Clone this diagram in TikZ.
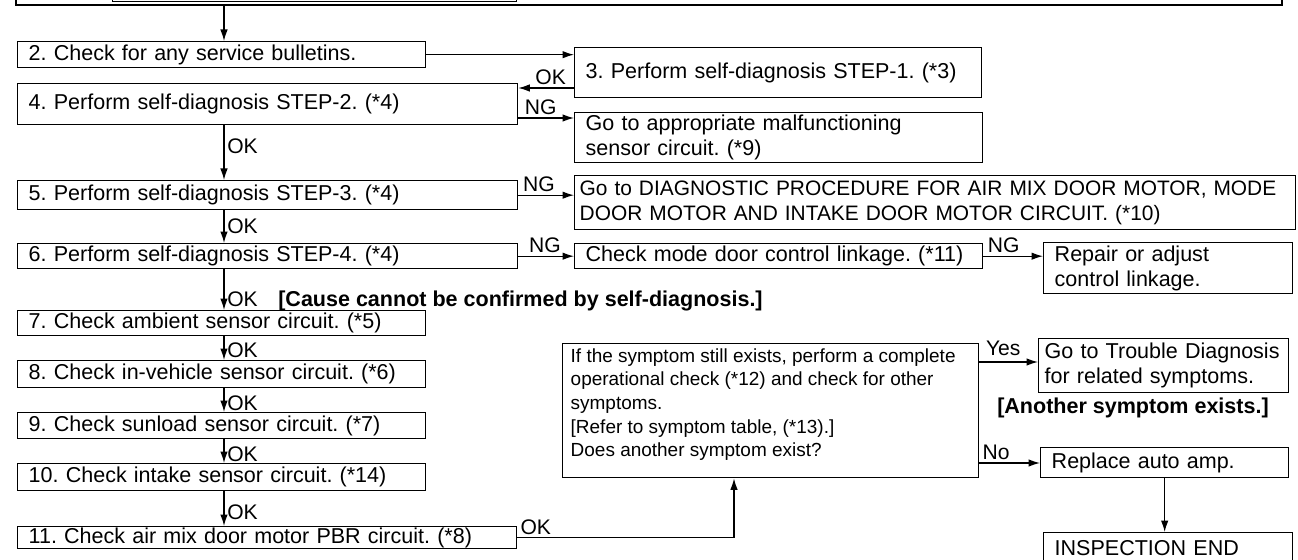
\documentclass[tikz,border=0pt]{standalone}
\usepackage{fontspec}
\setmainfont{Liberation Sans}
\usetikzlibrary{arrows.meta}
\frenchspacing

\begin{document}
\begin{tikzpicture}[x=0.02cm,y=-0.02cm,>={Latex[length=2.3mm,width=1.5mm]},
  box/.style={draw,line width=0.8pt,anchor=north west,inner xsep=0.22cm,inner ysep=0pt,
    align=left,font=\fontsize{12.25}{14.2}\selectfont},
  cut/.style={draw,anchor=south west,inner sep=0pt},
  flow/.style={->,line width=0.7pt},
  tag/.style={inner sep=1.5pt,font=\fontsize{12}{14}\selectfont},
  note/.style={inner sep=0pt,font=\bfseries\fontsize{12.25}{14.2}\selectfont}]
\useasboundingbox (0,0) rectangle (1298,560);
\clip (0,0) rectangle (1298,560);
\coordinate (spine) at (224,0);
\coordinate (riser) at (734,0);
% step 1 (cut off at the top)
\node[cut,line width=1.3pt,minimum width=25.32cm,minimum height=1.2cm] (top) at (15,6.5) {};
\node[cut,line width=0.8pt,minimum width=8.08cm,minimum height=1cm] (topin) at (112,2) {};
% left column
\node[box,text width=7.72cm,minimum height=0.52cm] (check2) at (17,41) {2. Check for any service bulletins.};
\node[box,text width=9.56cm,minimum height=0.82cm] (step2) at (17,83) {4. Perform self-diagnosis STEP-2. (*4)};
\node[box,text width=9.56cm,minimum height=0.58cm] (step3) at (17,180) {5. Perform self-diagnosis STEP-3. (*4)};
\node[box,text width=9.56cm,minimum height=0.5cm] (step4) at (17,243) {6. Perform self-diagnosis STEP-4. (*4)};
\node[box,text width=7.72cm,minimum height=0.5cm] (amb) at (17,310) {7. Check ambient sensor circuit. (*5)};
\node[box,text width=7.72cm,minimum height=0.54cm] (inveh) at (17,360) {8. Check in-vehicle sensor circuit. (*6)};
\node[box,text width=7.72cm,minimum height=0.52cm] (sunload) at (17,412) {9. Check sunload sensor circuit. (*7)};
\node[box,text width=7.72cm,minimum height=0.54cm] (intake) at (17,463) {10. Check intake sensor circuit. (*14)};
\node[box,text width=9.54cm,minimum height=0.44cm] (pbr) at (17,526) {11. Check air mix door motor PBR circuit. (*8)};
% right side
\node[box,text width=7.70cm,minimum height=1cm] (step1) at (574,47) {3. Perform self-diagnosis STEP-1. (*3)};
\node[box,text width=7.72cm,minimum height=1cm] (sensor) at (574,112) {Go to appropriate malfunctioning\\sensor circuit. (*9)};
\node[box,text width=14.22cm,inner xsep=0.1cm,minimum height=1.08cm,font=\fontsize{11.9}{14.2}\selectfont] (motors) at (574,175)
  {Go to DIAGNOSTIC PROCEDURE FOR AIR MIX DOOR MOTOR, MODE\\DOOR MOTOR AND INTAKE DOOR MOTOR CIRCUIT. (*10)};
\node[box,text width=7.72cm,minimum height=0.5cm] (linkage) at (574,243) {Check mode door control linkage. (*11)};
\node[box,text width=4.54cm,minimum height=1.02cm] (repair) at (1043,242) {Repair or adjust\\control linkage.};
\node[box,inner xsep=0.16cm,inner ysep=0.1cm,font=\fontsize{10.8}{13.4}\selectfont] (symptom) at (562,343)
  {\parbox[c][2.48cm][t]{8cm}{\raggedright If the symptom still exists, perform a complete\\operational check (*12) and check for other\\symptoms.\\{}[Refer to symptom table, (*13).]\\Does another symptom exist?}};
\node[box,text width=4.76cm,inner xsep=0.12cm,minimum height=1.08cm] (trouble) at (1038,338) {Go to Trouble Diagnosis\\for related symptoms.};
\node[box,text width=4.52cm,minimum height=0.6cm] (replace) at (1040,447) {Replace auto amp.};
\node[box,text width=4.54cm,minimum height=0.62cm] (inspend) at (1043,532) {INSPECTION END};
% connectors
\draw[flow] (top.south -| spine) -- (check2.north -| spine);
\draw[flow] (check2.east) -- (check2.east -| step1.west);
\draw[flow] (step1.west |- 0,88) -- (step2.east |- 0,88) node[tag,pos=0.42,above] (ok1) {OK};
\draw[flow] (step2.east |- 0,118) -- (sensor.west |- 0,118) node[tag,pos=0.4,above] (ng1) {NG};
\draw[flow] (step2.south -| spine) -- (step3.north -| spine) node[tag,pos=0.38,right] (ok2) {OK};
\draw[flow] (step3.east) -- (step3.east -| motors.west) node[tag,pos=0.37,above] (ng2) {NG};
\draw[flow] (step3.south -| spine) -- (step4.north -| spine) node[tag,pos=0.5,right] (ok3) {OK};
\draw[flow] (step4.east) -- (linkage.west) node[tag,pos=0.48,above] (ng3) {NG};
\draw[flow] (linkage.east) -- (linkage.east -| repair.west) node[tag,pos=0.34,above] (ng4) {NG};
\draw[flow] (step4.south -| spine) -- (amb.north -| spine) node[tag,pos=0.74,right] (ok4) {OK};
\node[note,anchor=base west] (cause) at ([xshift=0.34cm]ok4.base east) {[Cause cannot be confirmed by self-diagnosis.]};
\draw[flow] (amb.south -| spine) -- (inveh.north -| spine) node[tag,pos=0.6,right] (ok5) {OK};
\draw[flow] (inveh.south -| spine) -- (sunload.north -| spine) node[tag,pos=0.62,right] (ok6) {OK};
\draw[flow] (sunload.south -| spine) -- (intake.north -| spine) node[tag,pos=0.64,right] (ok7) {OK};
\draw[flow] (intake.south -| spine) -- (pbr.north -| spine) node[tag,pos=0.6,right] (ok8) {OK};
\draw[flow] (pbr.east) -| (riser |- symptom.south) node[tag,pos=0,above right] (ok9) {OK};
\draw[flow] (symptom.east |- 0,362) -- (trouble.west |- 0,362) node[tag,pos=0,above right=2pt] (yes) {Yes};
\draw[flow] (symptom.east |- 0,463) -- (replace.west |- 0,463) node[tag,pos=0,above right] (no) {No};
\node[note] (another) at (1133,408) {[Another symptom exists.]};
\draw[flow] (replace.south) -- (replace.south |- inspend.north);
\end{tikzpicture}
\end{document}
